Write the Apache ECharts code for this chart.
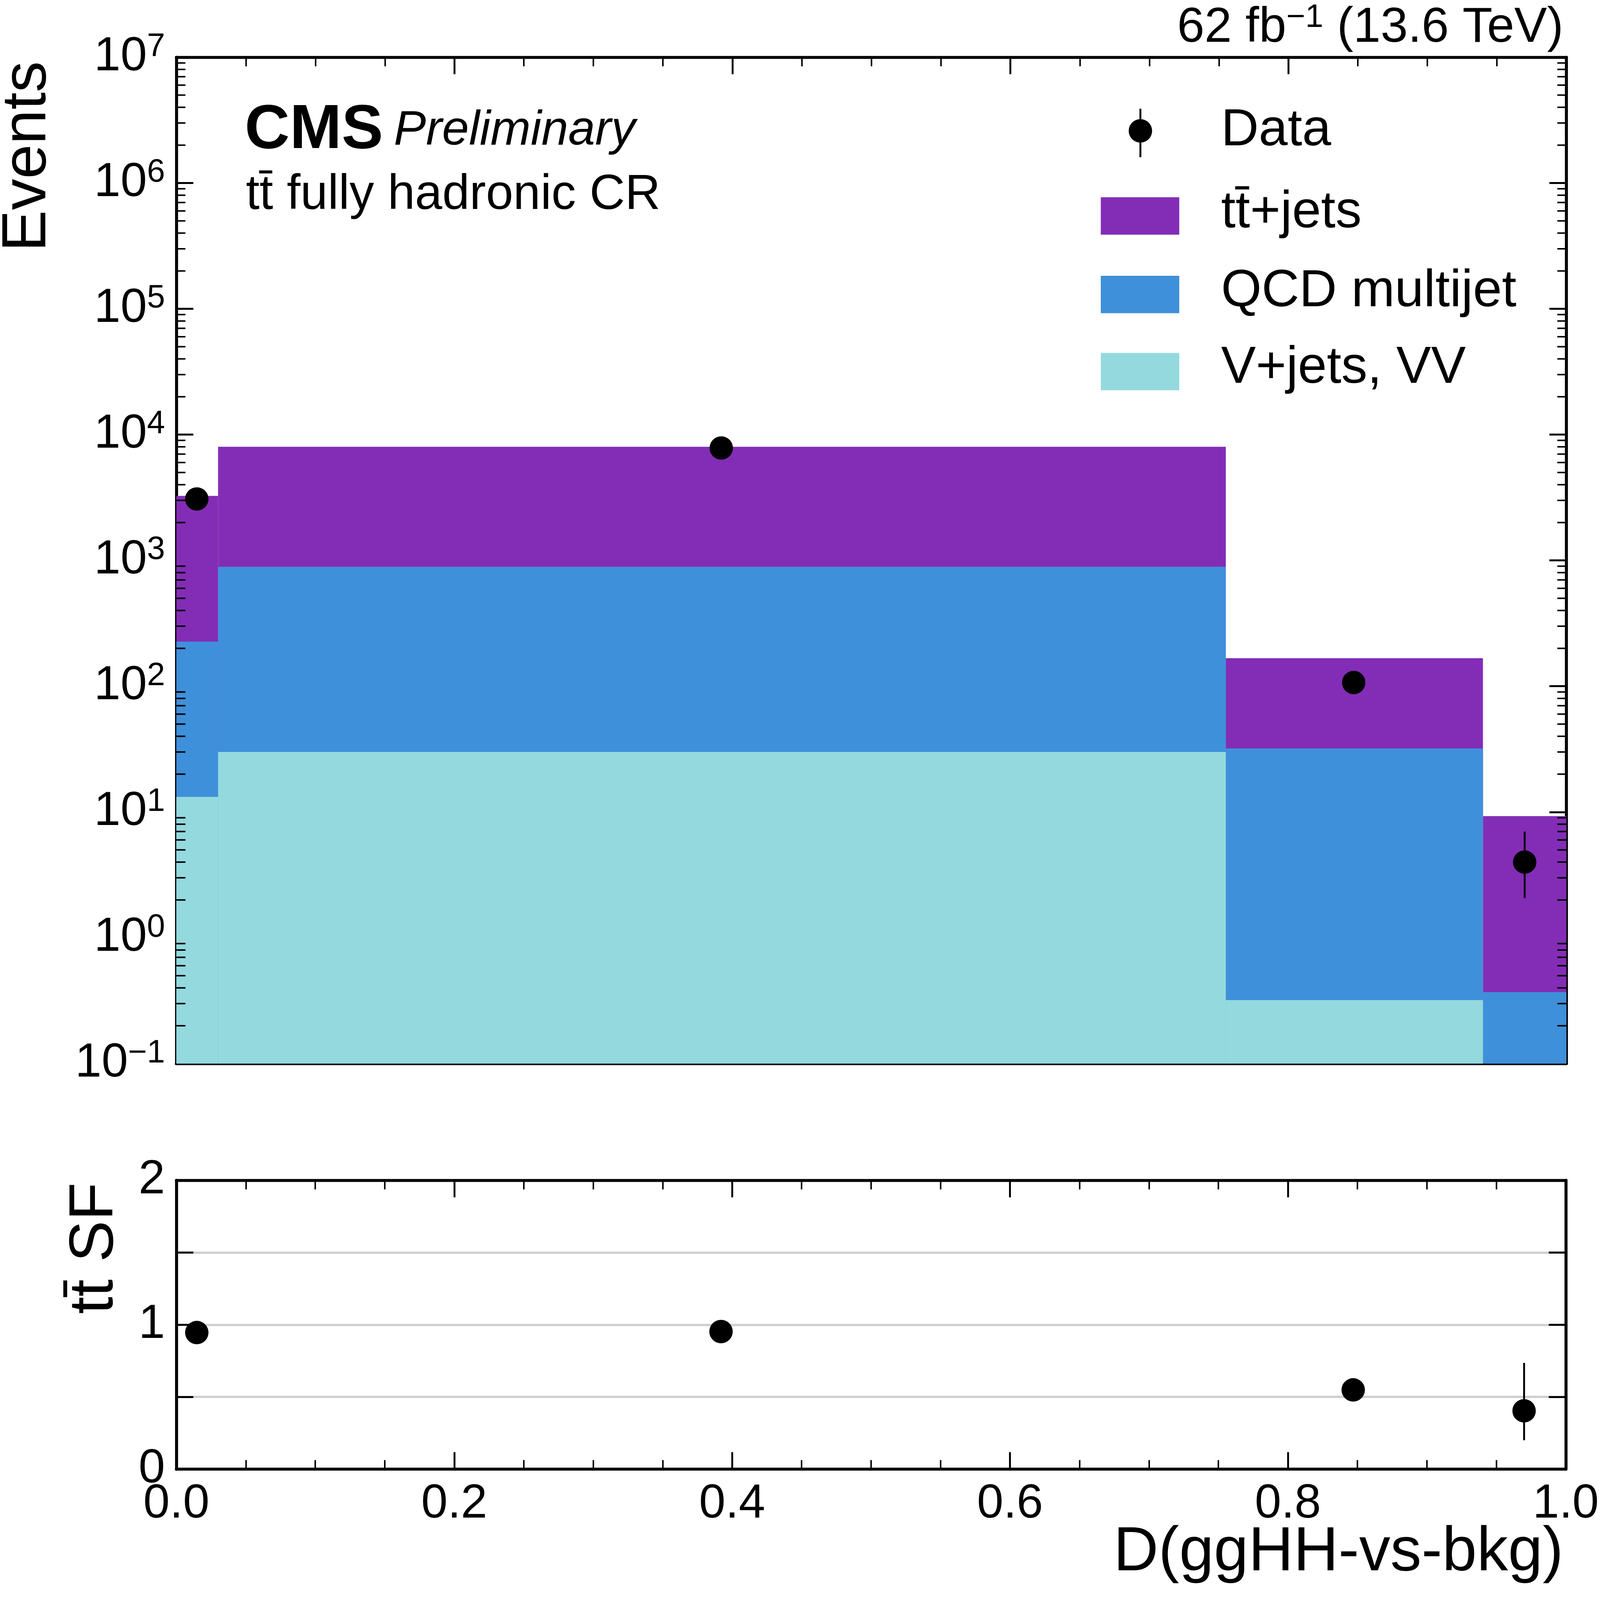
<!DOCTYPE html>
<html lang="en">
<head>
<meta charset="UTF-8">
<title>ttbar CR</title>
<script src="https://cdn.jsdelivr.net/npm/echarts@6/dist/echarts.min.js"></script>
<style>html,body{margin:0;padding:0;background:#fff;overflow:hidden}</style>
</head>
<body>
<div id="main" style="width:100vw;height:100vh;"></div>
<script type="text/javascript">
// bin edges and stack values
var binEdges = [0, 0.03, 0.755, 0.94, 1.0];
var vjets = [13.2, 30, 0.32, 0.05];
var qcd = [213, 860, 31.7, 0.32];      // QCD only (stacked on V+jets)
var ttbar = [3030, 7110, 135, 8.9];   // ttbar only (stacked on top)
var dataX = [0.0147, 0.392, 0.847, 0.97];
var dataY = [3080, 7830, 107, 4];
var dataLo = [3025, 7740, 97, 2.07];
var dataHi = [3135, 7920, 117, 7.0];
var sfY = [0.946, 0.953, 0.549, 0.404];
var sfLo = [0.92, 0.94, 0.50, 0.2];
var sfHi = [0.97, 0.965, 0.60, 0.736];

var cV = '#94d9de', cQ = '#3f90da', cT = '#832db6';
var FONT = 'Liberation Sans';

var dom = document.getElementById('main');
var myChart = echarts.init(dom);
var W = myChart.getWidth(), H = myChart.getHeight();
var kx = W / 4282, ky = H / 4194, k = Math.sqrt(kx * ky);
function X(v) { return v * kx; }
function Y(v) { return v * ky; }
function S(v) { return v * k; }
var fs = S(126);

// log minor tick positions (axis decoration)
var minorLog = [];
for (var e = -1; e < 7; e++) for (var m = 2; m <= 9; m++) minorLog.push([m * Math.pow(10, e)]);

function stackRows(layer) {
    var rows = [];
    for (var i = 0; i < 4; i++) {
        var top = vjets[i];
        if (layer >= 1) top += qcd[i];
        if (layer >= 2) top += ttbar[i];
        rows.push([binEdges[i], binEdges[i + 1], top]);
    }
    return rows;
}
function histRender(params, api) {
    var v = api.value(2);
    if (v <= 0.1) return null;
    var p0 = api.coord([api.value(0), 0.1]);
    var p1 = api.coord([api.value(1), v]);
    var cs = params.coordSys;
    var y1 = Math.max(p1[1], cs.y);
    return { type: 'rect', shape: { x: p0[0], y: y1, width: p1[0] - p0[0], height: p0[1] - y1 },
             style: { fill: api.visual('color') } };
}
function errRender(params, api) {
    var a = api.coord([api.value(0), api.value(1)]);
    var b = api.coord([api.value(0), api.value(2)]);
    return { type: 'line', shape: { x1: a[0], y1: a[1], x2: b[0], y2: b[1] }, style: { stroke: '#000', lineWidth: S(5) } };
}
function minorRender(params, api) {
    var cs = params.coordSys;
    var y = api.coord([0, api.value(0)])[1];
    var L = S(24);
    return { type: 'group', children: [
        { type: 'line', shape: { x1: cs.x, y1: y, x2: cs.x + L, y2: y }, style: { stroke: '#000', lineWidth: S(4) } },
        { type: 'line', shape: { x1: cs.x + cs.width - L, y1: y, x2: cs.x + cs.width, y2: y }, style: { stroke: '#000', lineWidth: S(4) } }
    ] };
}
function errRows(lo, hi) {
    return dataX.map(function (x, i) { return [x, lo[i], hi[i]]; });
}
var supRich = { sup: { fontSize: S(86), verticalAlign: 'top', padding: [0, 0, S(54), 0], fontFamily: FONT, color: '#000' } };
function logLabel(v) {
    var e = Math.round(Math.log10(v));
    return '10{sup|' + (e < 0 ? '\u2212' + (-e) : e) + '}';
}

var axisLine = { show: true, onZero: false, lineStyle: { color: '#000', width: S(8) } };
var tick = { show: true, inside: true, length: S(45), lineStyle: { color: '#000', width: S(5) } };
var minor = { show: true, splitNumber: 4, length: S(24), lineStyle: { color: '#000', width: S(4) } };
var txt = function (t, size, extra) {
    var s = { text: t, fontSize: S(size), fontFamily: FONT, fill: '#000' };
    for (var key in extra) s[key] = extra[key];
    return s;
};

var option = {
    animation: false,
    grid: [
        { left: X(472), top: Y(150), width: X(3720), height: Y(2638) },
        { left: X(472), top: Y(3094), width: X(3720), height: Y(757) }
    ],
    xAxis: [
        { gridIndex: 0, type: 'value', min: 0, max: 1, interval: 0.2, axisLine: axisLine, axisTick: tick, minorTick: minor, axisLabel: { show: false }, splitLine: { show: false } },
        { gridIndex: 0, type: 'value', position: 'top', min: 0, max: 1, interval: 0.2, axisLine: axisLine, axisTick: tick, minorTick: minor, axisLabel: { show: false }, splitLine: { show: false } },
        { gridIndex: 1, type: 'value', min: 0, max: 1, interval: 0.2, axisLine: axisLine, axisTick: tick, minorTick: minor,
          axisLabel: { fontSize: fs, color: '#000', fontFamily: FONT, margin: S(30), formatter: function (v) { return v.toFixed(1); } }, splitLine: { show: false } },
        { gridIndex: 1, type: 'value', position: 'top', min: 0, max: 1, interval: 0.2, axisLine: axisLine, axisTick: tick, minorTick: minor, axisLabel: { show: false }, splitLine: { show: false } }
    ],
    yAxis: [
        { gridIndex: 0, type: 'log', logBase: 10, min: 0.1, max: 1e7, axisLine: axisLine, axisTick: tick,
          axisLabel: { fontSize: fs, color: '#000', fontFamily: FONT, margin: S(30), formatter: logLabel, rich: supRich }, splitLine: { show: false } },
        { gridIndex: 0, type: 'log', logBase: 10, position: 'right', min: 0.1, max: 1e7, axisLine: axisLine, axisTick: tick,
          axisLabel: { show: false }, splitLine: { show: false } },
        { gridIndex: 1, type: 'value', min: 0, max: 2, interval: 0.5, axisLine: axisLine, axisTick: tick,
          axisLabel: { fontSize: fs, color: '#000', fontFamily: FONT, margin: S(30), formatter: function (v) { return v % 1 === 0 ? String(v) : ''; } },
          splitLine: { show: true, lineStyle: { color: '#d0d0d0', width: S(6) } } },
        { gridIndex: 1, type: 'value', position: 'right', min: 0, max: 2, interval: 0.5, axisLine: axisLine, axisTick: tick, axisLabel: { show: false }, splitLine: { show: false } }
    ],
    series: [
        { type: 'custom', xAxisIndex: 0, yAxisIndex: 0, renderItem: histRender, itemStyle: { color: cT }, data: stackRows(2), encode: { x: [0, 1], y: 2 }, z: 1 },
        { type: 'custom', xAxisIndex: 0, yAxisIndex: 0, renderItem: histRender, itemStyle: { color: cQ }, data: stackRows(1), encode: { x: [0, 1], y: 2 }, z: 2 },
        { type: 'custom', xAxisIndex: 0, yAxisIndex: 0, renderItem: histRender, itemStyle: { color: cV }, data: stackRows(0), encode: { x: [0, 1], y: 2 }, z: 3 },
        { type: 'custom', xAxisIndex: 0, yAxisIndex: 0, renderItem: minorRender, data: minorLog, encode: { y: 0 }, z: 10, silent: true },
        { type: 'custom', xAxisIndex: 0, yAxisIndex: 0, renderItem: errRender, data: errRows(dataLo, dataHi), encode: { x: 0, y: [1, 2] }, z: 5 },
        { type: 'scatter', xAxisIndex: 0, yAxisIndex: 0, symbolSize: S(62), itemStyle: { color: '#000', opacity: 1 }, data: dataX.map(function (x, i) { return [x, dataY[i]]; }), z: 6 },
        { type: 'custom', xAxisIndex: 2, yAxisIndex: 2, renderItem: errRender, data: errRows(sfLo, sfHi), encode: { x: 0, y: [1, 2] }, z: 5 },
        { type: 'scatter', xAxisIndex: 2, yAxisIndex: 2, symbolSize: S(62), itemStyle: { color: '#000', opacity: 1 }, data: dataX.map(function (x, i) { return [x, sfY[i]]; }), z: 6 }
    ],
    graphic: [
        { type: 'text', right: X(98), top: Y(5), style: txt('62 fb{sup|\u22121} (13.6 TeV)', 130, { rich: supRich }) },
        { type: 'text', x: X(75), y: Y(410), rotation: Math.PI / 2, style: txt('Events', 165, { align: 'center', verticalAlign: 'middle' }) },
        { type: 'text', left: X(655), top: Y(262), style: { text: '{b|CMS}{i|Preliminary}', rich: {
            b: { fontSize: S(165), fontWeight: 'bold', fontFamily: FONT, color: '#000' },
            i: { fontSize: S(128), fontStyle: 'italic', fontFamily: FONT, color: '#000', padding: [0, 0, 0, S(28)] } } } },
        { type: 'text', left: X(658), top: Y(448), style: txt('t\u0074\u0304 fully hadronic CR', 130) },
        // legend
        { type: 'line', shape: { x1: X(3052), y1: Y(285), x2: X(3052), y2: Y(412) }, style: { stroke: '#000', lineWidth: S(5) } },
        { type: 'circle', shape: { cx: X(3052), cy: Y(343), r: S(31) }, style: { fill: '#000' } },
        { type: 'text', left: X(3268), top: Y(275), style: txt('Data', 138) },
        { type: 'rect', shape: { x: X(2946), y: Y(517), width: X(210), height: Y(98) }, style: { fill: cT } },
        { type: 'text', left: X(3268), top: Y(490), style: txt('t\u0074\u0304+jets', 138) },
        { type: 'rect', shape: { x: X(2946), y: Y(723), width: X(210), height: Y(98) }, style: { fill: cQ } },
        { type: 'text', left: X(3268), top: Y(697), style: txt('QCD multijet', 138) },
        { type: 'rect', shape: { x: X(2946), y: Y(925), width: X(210), height: Y(98) }, style: { fill: cV } },
        { type: 'text', left: X(3268), top: Y(898), style: txt('V+jets, VV', 138) },
        // ratio axis title and x title
        { type: 'text', x: X(255), y: Y(3272), rotation: Math.PI / 2, style: txt('t\u0074\u0304 SF', 165, { align: 'center', verticalAlign: 'middle' }) },
        { type: 'text', right: X(98), top: Y(3990), style: txt('D(ggHH-vs-bkg)', 165) }
    ]
};
myChart.setOption(option);
</script>
</body>
</html>
